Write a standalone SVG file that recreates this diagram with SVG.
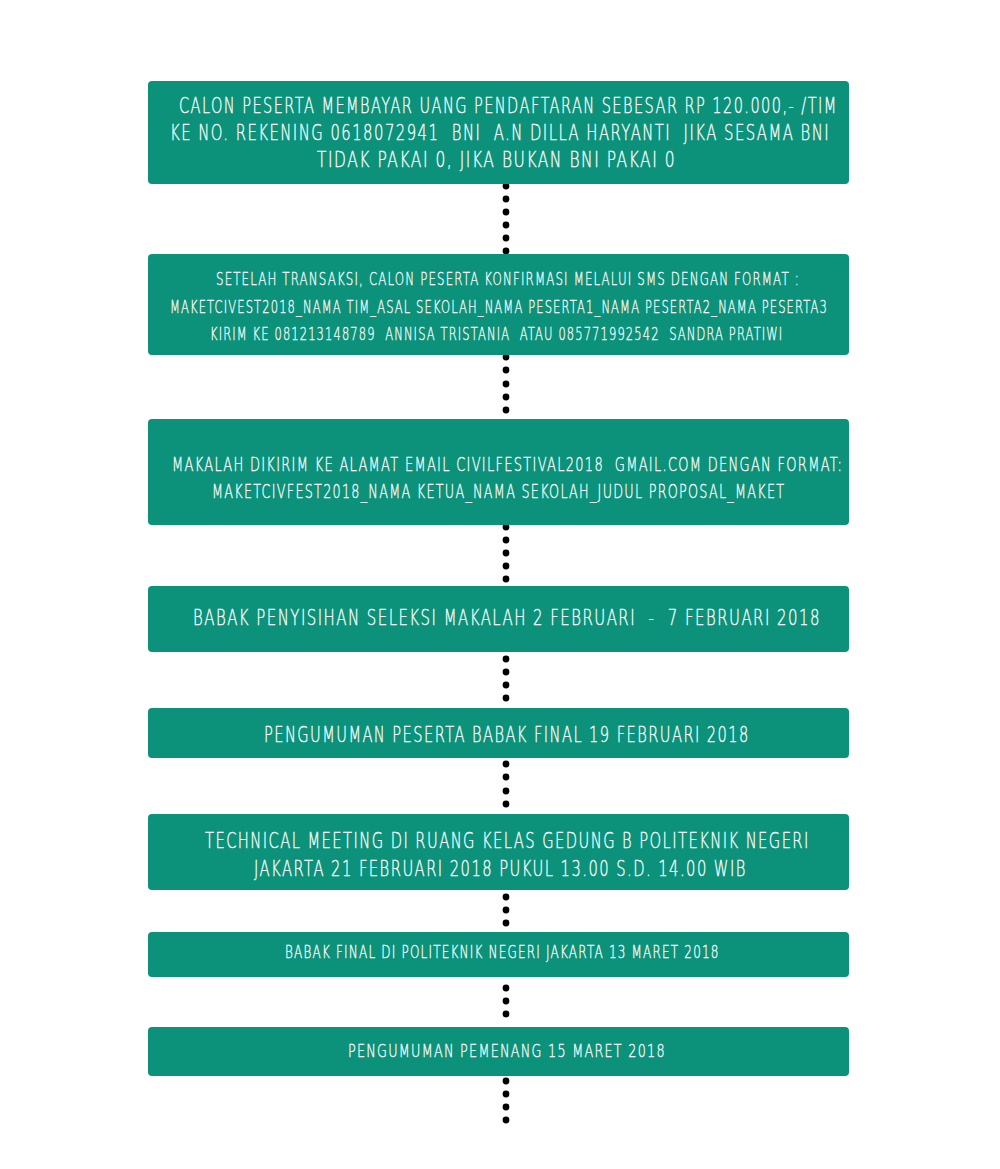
<svg xmlns="http://www.w3.org/2000/svg" width="1000" height="1169" viewBox="0 0 1000 1169">
<style>
.box{fill:#0c927a;}
.t{fill:#ffffff;stroke:#ffffff;stroke-width:0.35;font-family:"DejaVu Sans","Liberation Sans",sans-serif;font-weight:200;letter-spacing:0.1em;white-space:pre;}
.dot{fill:#000000;}
</style>
<rect width="1000" height="1169" fill="#ffffff"/>
<g id="connectors">
<g class="dot">
<circle cx="506" cy="186" r="3.4"/><circle cx="506" cy="199" r="3.4"/><circle cx="506" cy="212" r="3.4"/><circle cx="506" cy="225" r="3.4"/><circle cx="506" cy="238" r="3.4"/><circle cx="506" cy="251" r="3.4"/>
<circle cx="506" cy="357" r="3.4"/><circle cx="506" cy="370" r="3.4"/><circle cx="506" cy="384" r="3.4"/><circle cx="506" cy="397" r="3.4"/><circle cx="506" cy="410" r="3.4"/>
<circle cx="506" cy="527" r="3.4"/><circle cx="506" cy="540" r="3.4"/><circle cx="506" cy="553" r="3.4"/><circle cx="506" cy="566" r="3.4"/><circle cx="506" cy="579" r="3.4"/>
<circle cx="506" cy="659" r="3.4"/><circle cx="506" cy="672" r="3.4"/><circle cx="506" cy="685" r="3.4"/><circle cx="506" cy="698" r="3.4"/>
<circle cx="506" cy="764" r="3.4"/><circle cx="506" cy="777" r="3.4"/><circle cx="506" cy="791" r="3.4"/><circle cx="506" cy="804" r="3.4"/>
<circle cx="506" cy="897" r="3.4"/><circle cx="506" cy="910" r="3.4"/><circle cx="506" cy="923" r="3.4"/>
<circle cx="506" cy="988" r="3.4"/><circle cx="506" cy="1001" r="3.4"/><circle cx="506" cy="1014" r="3.4"/>
<circle cx="506" cy="1081" r="3.4"/><circle cx="506" cy="1094" r="3.4"/><circle cx="506" cy="1107" r="3.4"/><circle cx="506" cy="1120" r="3.4"/>
</g>
</g>
<g id="node1">
<rect class="box" x="148" y="81" width="701" height="103" rx="4"/>
<text class="t" transform="translate(179,113) scale(0.7,1)" font-size="21" textLength="941" lengthAdjust="spacingAndGlyphs">CALON PESERTA MEMBAYAR UANG PENDAFTARAN SEBESAR RP 120.000,- /TIM</text>
<text class="t" transform="translate(170,140) scale(0.7,1)" font-size="21" textLength="943" lengthAdjust="spacingAndGlyphs">KE NO. REKENING 0618072941  BNI  A.N DILLA HARYANTI  JIKA SESAMA BNI</text>
<text class="t" transform="translate(317,167) scale(0.7,1)" font-size="21" textLength="513" lengthAdjust="spacingAndGlyphs">TIDAK PAKAI 0, JIKA BUKAN BNI PAKAI 0</text>
</g>
<g id="node2">
<rect class="box" x="148" y="254" width="701" height="101" rx="4"/>
<text class="t" transform="translate(216,285) scale(0.7,1)" font-size="18" textLength="834" lengthAdjust="spacingAndGlyphs">SETELAH TRANSAKSI, CALON PESERTA KONFIRMASI MELALUI SMS DENGAN FORMAT :</text>
<text class="t" transform="translate(170,313) scale(0.7,1)" font-size="18" textLength="940" lengthAdjust="spacingAndGlyphs">MAKETCIVEST2018_NAMA TIM_ASAL SEKOLAH_NAMA PESERTA1_NAMA PESERTA2_NAMA PESERTA3</text>
<text class="t" transform="translate(210,340) scale(0.7,1)" font-size="18" textLength="819" lengthAdjust="spacingAndGlyphs">KIRIM KE 081213148789  ANNISA TRISTANIA  ATAU 085771992542  SANDRA PRATIWI</text>
</g>
<g id="node3">
<rect class="box" x="148" y="419" width="701" height="106" rx="4"/>
<text class="t" transform="translate(172,471) scale(0.7,1)" font-size="19" textLength="959" lengthAdjust="spacingAndGlyphs">MAKALAH DIKIRIM KE ALAMAT EMAIL CIVILFESTIVAL2018  GMAIL.COM DENGAN FORMAT:</text>
<text class="t" transform="translate(212,498) scale(0.7,1)" font-size="19" textLength="819" lengthAdjust="spacingAndGlyphs">MAKETCIVFEST2018_NAMA KETUA_NAMA SEKOLAH_JUDUL PROPOSAL_MAKET</text>
</g>
<g id="node4">
<rect class="box" x="148" y="586" width="701" height="66" rx="4"/>
<text class="t" transform="translate(193,625) scale(0.7,1)" font-size="21" textLength="897" lengthAdjust="spacingAndGlyphs">BABAK PENYISIHAN SELEKSI MAKALAH 2 FEBRUARI  -  7 FEBRUARI 2018</text>
</g>
<g id="node5">
<rect class="box" x="148" y="708" width="701" height="50" rx="4"/>
<text class="t" transform="translate(264,742) scale(0.7,1)" font-size="21" textLength="694" lengthAdjust="spacingAndGlyphs">PENGUMUMAN PESERTA BABAK FINAL 19 FEBRUARI 2018</text>
</g>
<g id="node6">
<rect class="box" x="148" y="814" width="701" height="76" rx="4"/>
<text class="t" transform="translate(205,848) scale(0.7,1)" font-size="21" textLength="864" lengthAdjust="spacingAndGlyphs">TECHNICAL MEETING DI RUANG KELAS GEDUNG B POLITEKNIK NEGERI</text>
<text class="t" transform="translate(254,876) scale(0.7,1)" font-size="21" textLength="704" lengthAdjust="spacingAndGlyphs">JAKARTA 21 FEBRUARI 2018 PUKUL 13.00 S.D. 14.00 WIB</text>
</g>
<g id="node7">
<rect class="box" x="148" y="932" width="701" height="45" rx="4"/>
<text class="t" transform="translate(285,958) scale(0.7,1)" font-size="17" textLength="621" lengthAdjust="spacingAndGlyphs">BABAK FINAL DI POLITEKNIK NEGERI JAKARTA 13 MARET 2018</text>
</g>
<g id="node8">
<rect class="box" x="148" y="1027" width="701" height="49" rx="4"/>
<text class="t" transform="translate(348,1057) scale(0.7,1)" font-size="18" textLength="454" lengthAdjust="spacingAndGlyphs">PENGUMUMAN PEMENANG 15 MARET 2018</text>
</g>
</svg>
